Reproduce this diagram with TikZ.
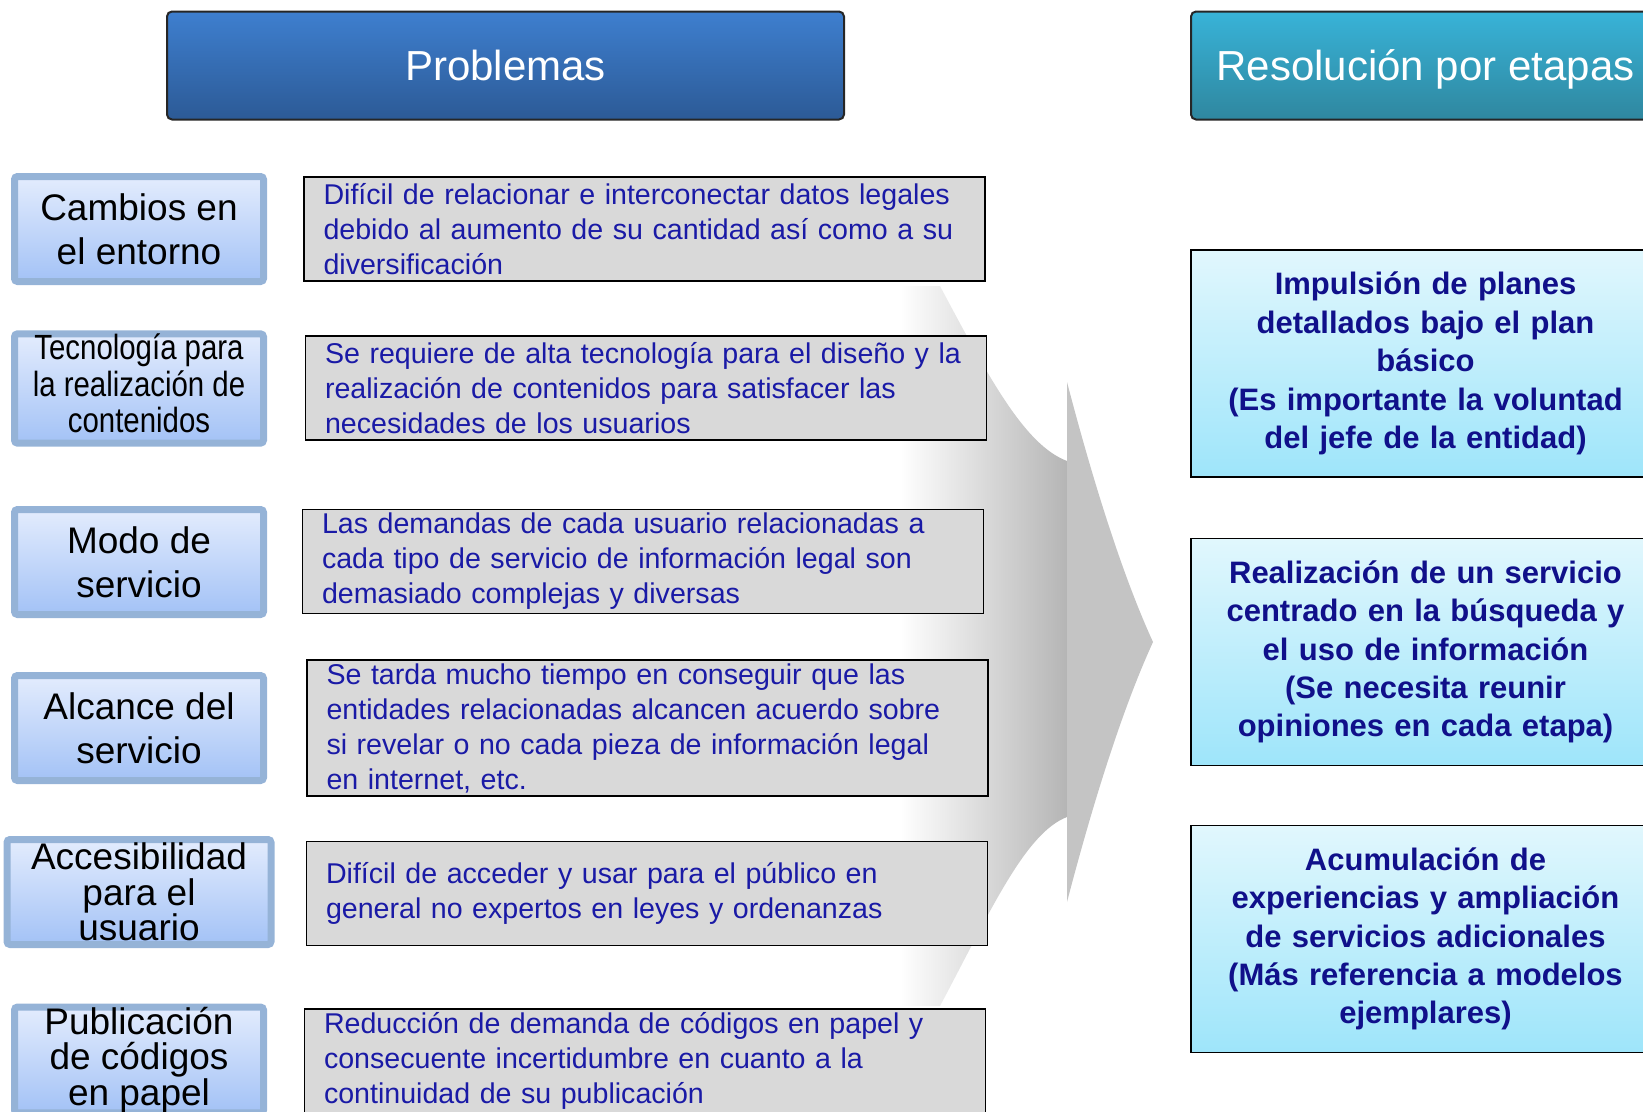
\documentclass[tikz,border=0pt]{standalone}
\usepackage{fontspec}
\setmainfont{Liberation Sans}
\usepackage{graphicx}
\definecolor{probtop}{HTML}{3E7FCF}
\definecolor{probbot}{HTML}{2C5A96}
\definecolor{restop}{HTML}{38B3D8}
\definecolor{resbot}{HTML}{2F879F}
\definecolor{topicedge}{HTML}{95B3D7}
\definecolor{topictop}{HTML}{E3ECFD}
\definecolor{topicbot}{HTML}{A3C2F6}
\definecolor{issuegray}{HTML}{D9D9D9}
\definecolor{issuetext}{HTML}{1A1AA6}
\definecolor{stagetop}{HTML}{E1F7FD}
\definecolor{stagebot}{HTML}{9EE5FA}
\definecolor{stagetext}{HTML}{10108A}
\definecolor{arrowbody}{HTML}{B5B5B5}
\definecolor{arrowhead}{HTML}{C4C4C4}
\begin{document}
\begin{tikzpicture}[x=1pt,y=-1pt,
  head/.style={draw=black!85,line width=2pt,rounded corners=5pt,text=white,
    minimum height=108pt,text height=38pt,text depth=9pt,
    font=\fontsize{42}{50}\selectfont},
  topic/.style={draw=topicedge,line width=7pt,rounded corners=3pt,
    top color=topictop,bottom color=topicbot,minimum width=249pt,
    minimum height=105pt,inner sep=0pt,align=center,
    font=\fontsize{37}{44}\selectfont},
  issue/.style={draw=black,line width=1.5pt,fill=issuegray,text=issuetext,
    text width=642pt,inner xsep=19.5pt,align=left,minimum height=104pt,
    font=\fontsize{28.6}{35}\selectfont},
  stage/.style={draw=black,line width=1.5pt,top color=stagetop,
    bottom color=stagebot,minimum width=469pt,minimum height=227pt,
    text width=440pt,align=center,text=stagetext,
    font=\fontsize{31}{38.4}\selectfont\bfseries}]
\clip (0,0) rectangle (1643,1111);
% big grey arrow behind the boxes
\shade[left color=white,right color=arrowbody] (900,286) -- (940,286)
  .. controls (990,380) and (1025,445) .. (1067,461) -- (1067,817)
  .. controls (1025,833) and (990,912) .. (940,1006) -- (900,1006) -- cycle;
\fill[arrowhead] (1067,382) .. controls (1090,470) and (1120,570) .. (1153,642)
  .. controls (1120,714) and (1090,814) .. (1067,902) -- cycle;
% headers
\node[head,top color=probtop,bottom color=probbot,minimum width=677pt] (prob) at (505.5,65.5) {Problemas};
\node[head,top color=restop,bottom color=resbot,minimum width=469pt] (res) at (1425.5,65.5) {Resolución por etapas};
% topics
\node[topic] (cambios) at (139,229) {Cambios en\\el entorno};
\node[topic] (tecno) at (139,388.5) {\scalebox{0.84}[1]{\fontsize{35}{36}\selectfont
  \begin{tabular}{@{}c@{}}Tecnología para\\la realización de\\contenidos\end{tabular}}};
\node[topic] (modo) at (139,562) {Modo de\\servicio};
\node[topic] (alcance) at (139,728) {Alcance del\\servicio};
\node[topic,minimum width=264pt,font=\fontsize{37}{35.5}\selectfont] (acceso) at (139,892) {Accesibilidad\\para el\\usuario};
\node[topic,font=\fontsize{37}{35.5}\selectfont] (publica) at (139,1060) {Publicación\\de códigos\\en papel};
% issues
\node[issue] (iss1) at (644.5,229) {Difícil de relacionar e interconectar datos legales\\debido al aumento de su cantidad así como a su\\diversificación};
\node[issue] (iss2) at (646,388) {Se requiere de alta tecnología para el diseño y la\\realización de contenidos para satisfacer las\\necesidades de los usuarios};
\node[issue] (iss3) at (643,561.5) {Las demandas de cada usuario relacionadas a\\cada tipo de servicio de información legal son\\demasiado complejas y diversas};
\node[issue,minimum height=134pt] (iss4) at (647.5,728) {Se tarda mucho tiempo en conseguir que las\\entidades relacionadas alcancen acuerdo sobre\\si revelar o no cada pieza de información legal\\en internet, etc.};
\node[issue] (iss5) at (647,893.5) {Difícil de acceder y usar para el público en\\general no expertos en leyes y ordenanzas};
\node[issue] (iss6) at (645,1061) {Reducción de demanda de códigos en papel y\\consecuente incertidumbre en cuanto a la\\continuidad de su publicación};
% stages
\node[stage] (etapa1) at (1425.5,363.5) {Impulsión de planes\\detallados bajo el plan\\básico\\(Es importante la voluntad\\del jefe de la entidad)};
\node[stage] (etapa2) at (1425.5,652) {Realización de un servicio\\centrado en la búsqueda y\\el uso de información\\(Se necesita reunir\\opiniones en cada etapa)};
\node[stage] (etapa3) at (1425.5,939) {Acumulación de\\experiencias y ampliación\\de servicios adicionales\\(Más referencia a modelos\\ejemplares)};
\end{tikzpicture}
\end{document}
